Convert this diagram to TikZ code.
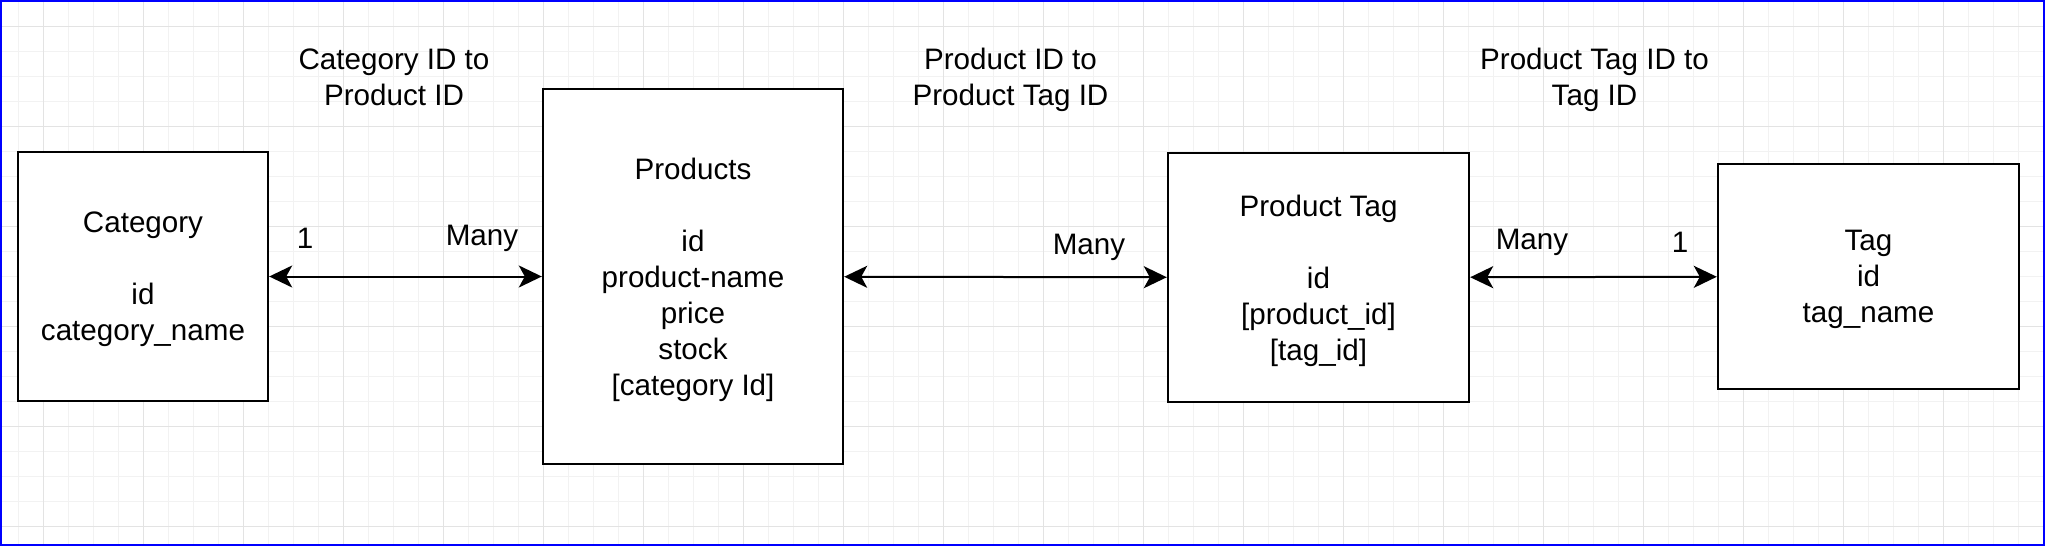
\documentclass[tikz,border=0pt]{standalone}
\usepackage{fontspec}
\setmainfont{Liberation Sans}
\usepackage{tikz}
\usetikzlibrary{arrows.meta}

\begin{document}
\begin{tikzpicture}[x=0.5pt, y=-0.5pt,
        font=\fontsize{14.8}{18}\selectfont,
        entity/.style={rectangle, draw, line width=1.2pt, fill=white, align=center, text depth=0pt},
        link/.style={{Stealth[length=11.5pt, width=11pt, inset=3pt]}-{Stealth[length=11.5pt, width=11pt, inset=3pt]}, line width=1pt},
        note/.style={align=center, inner sep=0pt},
        minorgrid/.style={draw=black!5, line width=0.5pt},
        majorgrid/.style={draw=black!11, line width=0.5pt}]
        % Background
        \useasboundingbox (0, 0) rectangle (2045, 546);
        \foreach \gx in {18, 43, ..., 2043} \draw[minorgrid] (\gx, 0) -- (\gx, 546);
        \foreach \gy in {1.7, 26.7, ..., 545} \draw[minorgrid] (0, \gy) -- (2045, \gy);
        \foreach \gx in {43, 143, ..., 2043} \draw[majorgrid] (\gx, 0) -- (\gx, 546);
        \foreach \gy in {26.7, 126.7, ..., 545} \draw[majorgrid] (0, \gy) -- (2045, \gy);
        \draw[blue, line width=1pt] (1, 1) rectangle (2044, 545);

        % Tables
        \node[entity, minimum width=125pt, minimum height=124.5pt] (1) at (143, 276.5) {Category\\[18pt]id\\category\_name};
        \node[entity, minimum width=150pt, minimum height=187.5pt] (2) at (693, 276.5) {Products\\[18pt]id\\product-name\\price\\stock\\{[}category Id]};
        \node[entity, minimum width=150.5pt, minimum height=124.5pt] (3) at (1318.5, 277.5) {Product Tag\\[18pt]id\\{[}product\_id]\\{[}tag\_id]};
        \node[entity, minimum width=150.5pt, minimum height=112.5pt] (4) at (1868.5, 276.5) {Tag\\id\\tag\_name};

        \draw[link] (1) -- (2);
        \draw[link] (2) -- (3);
        \draw[link] (3) -- (4);

        % Relations
        \node[note] (r1) at (394, 77) {Category ID to\\Product ID};
        \node[note] (r2) at (1010.5, 79.6) {Product ID to\\Product Tag ID};
        \node[note] (r3) at (1594.5, 79.6) {Product Tag ID to\\Tag ID};

        \node[note, anchor=base] (m1) at (305, 248) {1};
        \node[note, anchor=base] (m2) at (482, 245) {Many};
        \node[note, anchor=base] (m3) at (1089, 254) {Many};
        \node[note, anchor=base] (m4) at (1532, 249) {Many};
        \node[note, anchor=base] (m5) at (1680, 252) {1};

        \end{tikzpicture}
\end{document}
